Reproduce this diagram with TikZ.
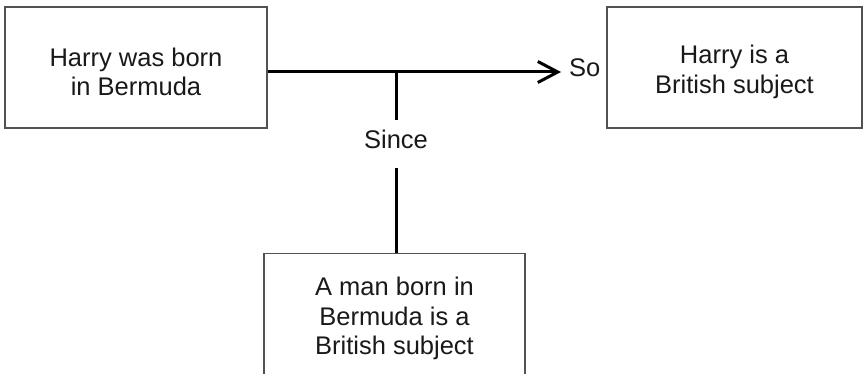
\documentclass[tikz,border=0pt]{standalone}
\usepackage{fontspec}
\setmainfont{Liberation Sans}
\usetikzlibrary{arrows.meta}
\begin{document}
\begin{tikzpicture}[x=1pt,y=-1pt,
  box/.style={draw=black!68,line width=1.5pt,inner sep=0pt},
  txt/.style={align=center,inner sep=0pt,text=black!90,
    font=\fontsize{25.5}{29.5}\selectfont},
  lbl/.style={inner sep=0pt,text=black!90,font=\fontsize{25.5}{29.5}\selectfont},
  link/.style={line width=3pt,black}]
\useasboundingbox (0,0) rectangle (864,374);
\clip (0,0) rectangle (864,374);
% boxes
\node[box,minimum width=262pt,minimum height=121pt] (left) at (136,67.5) {};
\node[box,minimum width=255pt,minimum height=121pt] (right) at (734.5,67.5) {};
\node[box,minimum width=261pt,minimum height=128pt] (bottom) at (394.5,317.5) {};
% box texts
\node[txt] (lefttext) at ([yshift=-4.5pt]left.center) {Harry was born\\in Bermuda};
\node[txt] (righttext) at ([yshift=-4.5pt]right.center) {Harry is a\\British subject};
\node[txt] (bottomtext) at ([yshift=-1pt]bottom.center) {A man born in\\Bermuda is a\\British subject};
% connectors
\coordinate (tip) at (561,72);
\coordinate (j) at (396,72);
\node[lbl,anchor=base west] (so) at (569,76.5) {So};
\node[lbl,anchor=base,text height=28.3pt,text depth=19.7pt] (since) at (396,148.3) {Since};
\draw[link,-{Straight Barb[length=20pt,width=21pt]}] (left.east |- tip) -- (tip);
\draw[link] (j) -- (since.north);
\draw[link] (since.south) -- (bottom.north -| since);
\end{tikzpicture}
\end{document}
